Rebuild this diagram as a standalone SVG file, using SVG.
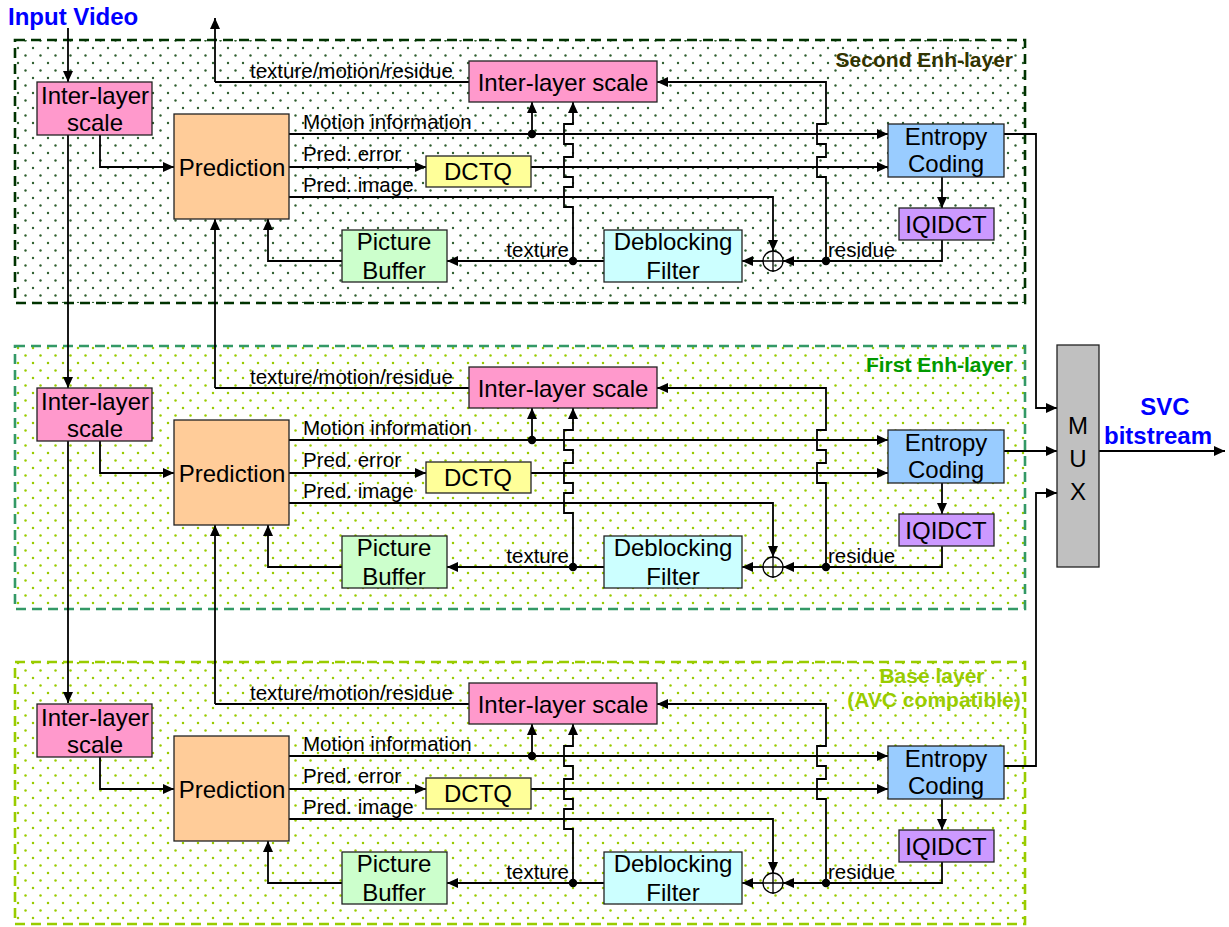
<svg xmlns="http://www.w3.org/2000/svg" width="1229" height="927" viewBox="0 0 1229 927">
<defs>
  <pattern id="dotsDark" width="15" height="15" patternUnits="userSpaceOnUse">
    <circle cx="3" cy="3" r="1.2" fill="#2f5f2f"/>
    <circle cx="10.5" cy="10.5" r="1.2" fill="#2f5f2f"/>
  </pattern>
  <pattern id="dotsLight" width="15" height="15" patternUnits="userSpaceOnUse">
    <circle cx="3" cy="3" r="1.25" fill="#99cc00"/>
    <circle cx="10.5" cy="10.5" r="1.25" fill="#99cc00"/>
  </pattern>
  <marker id="arr" markerUnits="userSpaceOnUse" markerWidth="11" markerHeight="10" refX="11" refY="5" orient="auto">
    <path d="M0,0 L11,5 L0,10 z" fill="#000"/>
  </marker>
</defs>
<style>
  .box { stroke: #222; stroke-width: 1.3; }
  .pink { fill: #FF99CC; }
  .orange { fill: #FFCC99; }
  .yellow { fill: #FFFF99; }
  .blue { fill: #99CCFF; }
  .purple { fill: #CC99FF; }
  .cyan { fill: #CCFFFF; }
  .green { fill: #CCFFCC; }
  .gray { fill: #C0C0C0; }
  .bt { font-family: "Liberation Sans", Arial, sans-serif; font-size: 24px; fill: #000; text-anchor: middle; }
  .lbl { font-family: "Liberation Sans", Arial, sans-serif; font-size: 20.5px; fill: #000; }
  .hdr { font-family: "Liberation Sans", Arial, sans-serif; font-size: 21px; font-weight: bold; }
  .big { font-family: "Liberation Sans", Arial, sans-serif; font-size: 24px; font-weight: bold; fill: #0000FF; }
  .ln { fill: none; stroke: #000; stroke-width: 1.8; }
  .la { fill: none; stroke: #000; stroke-width: 1.8; marker-end: url(#arr); }
  .dot { fill: #000; }
  .frame { stroke-width: 2.6; stroke-dasharray: 10 6; }
</style>
<rect width="1229" height="927" fill="#fff"/>

<!-- Layer frames -->
<g id="frames">
  <rect id="frame-second" class="frame" x="15" y="40" width="1010" height="263" fill="url(#dotsDark)" stroke="#003300"/>
  <rect id="frame-first" class="frame" x="15" y="346" width="1010" height="263" fill="url(#dotsLight)" stroke="#339966"/>
  <rect id="frame-base" class="frame" x="15" y="662" width="1010" height="262" fill="url(#dotsLight)" stroke="#99CC00"/>
  <text class="hdr" x="1013" y="67" text-anchor="end" fill="#333300">Second Enh-layer</text>
  <text class="hdr" x="1013" y="372" text-anchor="end" fill="#009900">First Enh-layer</text>
  <text class="hdr" x="932" y="683" text-anchor="middle" fill="#99CC00">Base layer</text>
  <text class="hdr" x="934" y="707" text-anchor="middle" fill="#99CC00">(AVC compatible)</text>
</g>

<text class="big" x="8" y="25">Input Video</text>
<text class="big" x="1165" y="415" text-anchor="middle">SVC</text>
<text class="big" x="1158" y="444" text-anchor="middle">bitstream</text>

<!-- Connectors -->
<g id="connectors">
  <path class="la" d="M68,28 V82"/>
  <path class="la" d="M215,82 V18"/>
  <path class="la" d="M68,135 V388"/>
  <path class="la" d="M68,441 V703"/>
  <path class="la" d="M1004,134 H1036 V408 H1057"/>
  <path class="la" d="M1004,451 H1057"/>
  <path class="la" d="M1004,766 H1036 V493 H1057"/>
  <path class="la" d="M1099,451 H1225"/>
  <path class="la" d="M215,388 V219"/>
  <path class="la" d="M215,704 V525"/>
  <g id="conn-second">
    <path class="ln" d="M469,82 H215"/>
    <path class="la" d="M100,135 V167 H174"/>
    <path class="la" d="M289,134 H888"/>
    <path class="la" d="M532,134 V102"/>
    <path class="la" d="M289,167 H426"/>
    <path class="la" d="M531,167 H888"/>
    <path class="la" d="M289,197 H773 V251"/>
    <path class="la" d="M942,177 V208"/>
    <path class="la" d="M942,240 V261 H783"/>
    <path class="la" d="M826,261 V177 h-9 V157 h9 V144 h-9 V124 h9 V82 H657"/>
    <path class="la" d="M763,261 H742"/>
    <path class="la" d="M604,261 H447"/>
    <path class="la" d="M573,261 V207 h-9 V187 h9 V177 h-9 V157 h9 V144 h-9 V124 h9 V102"/>
    <path class="la" d="M342,261 H268 V219"/>
    <circle class="dot" cx="532" cy="134" r="4.2"/>
    <circle class="dot" cx="826" cy="261" r="4.2"/>
    <circle class="dot" cx="573" cy="261" r="4.2"/>
  </g>
  <g id="conn-first" transform="translate(0,306)">
    <path class="ln" d="M469,82 H215"/>
    <path class="la" d="M100,135 V167 H174"/>
    <path class="la" d="M289,134 H888"/>
    <path class="la" d="M532,134 V102"/>
    <path class="la" d="M289,167 H426"/>
    <path class="la" d="M531,167 H888"/>
    <path class="la" d="M289,197 H773 V251"/>
    <path class="la" d="M942,177 V208"/>
    <path class="la" d="M942,240 V261 H783"/>
    <path class="la" d="M826,261 V177 h-9 V157 h9 V144 h-9 V124 h9 V82 H657"/>
    <path class="la" d="M763,261 H742"/>
    <path class="la" d="M604,261 H447"/>
    <path class="la" d="M573,261 V207 h-9 V187 h9 V177 h-9 V157 h9 V144 h-9 V124 h9 V102"/>
    <path class="la" d="M342,261 H268 V219"/>
    <circle class="dot" cx="532" cy="134" r="4.2"/>
    <circle class="dot" cx="826" cy="261" r="4.2"/>
    <circle class="dot" cx="573" cy="261" r="4.2"/>
  </g>
  <g id="conn-base" transform="translate(0,622)">
    <path class="ln" d="M469,82 H215"/>
    <path class="la" d="M100,135 V167 H174"/>
    <path class="la" d="M289,134 H888"/>
    <path class="la" d="M532,134 V102"/>
    <path class="la" d="M289,167 H426"/>
    <path class="la" d="M531,167 H888"/>
    <path class="la" d="M289,197 H773 V251"/>
    <path class="la" d="M942,177 V208"/>
    <path class="la" d="M942,240 V261 H783"/>
    <path class="la" d="M826,261 V177 h-9 V157 h9 V144 h-9 V124 h9 V82 H657"/>
    <path class="la" d="M763,261 H742"/>
    <path class="la" d="M604,261 H447"/>
    <path class="la" d="M573,261 V207 h-9 V187 h9 V177 h-9 V157 h9 V144 h-9 V124 h9 V102"/>
    <path class="la" d="M342,261 H268 V219"/>
    <circle class="dot" cx="532" cy="134" r="4.2"/>
    <circle class="dot" cx="826" cy="261" r="4.2"/>
    <circle class="dot" cx="573" cy="261" r="4.2"/>
  </g>
</g>

<!-- Connector labels -->
<g id="labels">
  <g id="labels-second">
    <text class="lbl" x="250" y="78">texture/motion/residue</text>
    <text class="lbl" x="303" y="129">Motion information</text>
    <text class="lbl" x="303" y="161">Pred. error</text>
    <text class="lbl" x="303" y="192">Pred. image</text>
    <text class="lbl" x="569" y="257" text-anchor="end">texture</text>
    <text class="lbl" x="828" y="257">residue</text>
  </g>
  <g id="labels-first" transform="translate(0,306)">
    <text class="lbl" x="250" y="78">texture/motion/residue</text>
    <text class="lbl" x="303" y="129">Motion information</text>
    <text class="lbl" x="303" y="161">Pred. error</text>
    <text class="lbl" x="303" y="192">Pred. image</text>
    <text class="lbl" x="569" y="257" text-anchor="end">texture</text>
    <text class="lbl" x="828" y="257">residue</text>
  </g>
  <g id="labels-base" transform="translate(0,622)">
    <text class="lbl" x="250" y="78">texture/motion/residue</text>
    <text class="lbl" x="303" y="129">Motion information</text>
    <text class="lbl" x="303" y="161">Pred. error</text>
    <text class="lbl" x="303" y="192">Pred. image</text>
    <text class="lbl" x="569" y="257" text-anchor="end">texture</text>
    <text class="lbl" x="828" y="257">residue</text>
  </g>
</g>

<!-- Nodes: Second Enh-layer -->
<g id="second-layer">
  <g id="second-interlayer-left"><rect class="box pink" x="37" y="82" width="115" height="53"/><text class="bt" x="95" y="104">Inter-layer</text><text class="bt" x="95" y="131">scale</text></g>
  <g id="second-prediction"><rect class="box orange" x="174" y="114" width="115" height="105"/><text class="bt" x="232" y="176">Prediction</text></g>
  <g id="second-interlayer-mid"><rect class="box pink" x="469" y="61" width="188" height="41"/><text class="bt" x="563" y="91">Inter-layer scale</text></g>
  <g id="second-dctq"><rect class="box yellow" x="426" y="156" width="105" height="31"/><text class="bt" x="478" y="180">DCTQ</text></g>
  <g id="second-entropy"><rect class="box blue" x="888" y="124" width="116" height="53"/><text class="bt" x="946" y="145">Entropy</text><text class="bt" x="946" y="172">Coding</text></g>
  <g id="second-iqidct"><rect class="box purple" x="899" y="208" width="95" height="32"/><text class="bt" x="946" y="233">IQIDCT</text></g>
  <g id="second-deblocking"><rect class="box cyan" x="604" y="230" width="138" height="52"/><text class="bt" x="673" y="250">Deblocking</text><text class="bt" x="673" y="279">Filter</text></g>
  <g id="second-picbuf"><rect class="box green" x="342" y="230" width="105" height="52"/><text class="bt" x="394" y="250">Picture</text><text class="bt" x="394" y="279">Buffer</text></g>
  <g id="second-adder"><circle cx="773" cy="261" r="10" fill="none" stroke="#000" stroke-width="1.3"/><path d="M773,250 V272 M762,261 H784" stroke="#000" stroke-width="1.3"/></g>
</g>

<!-- Nodes: First Enh-layer -->
<g id="first-layer" transform="translate(0,306)">
  <g id="first-interlayer-left"><rect class="box pink" x="37" y="82" width="115" height="53"/><text class="bt" x="95" y="104">Inter-layer</text><text class="bt" x="95" y="131">scale</text></g>
  <g id="first-prediction"><rect class="box orange" x="174" y="114" width="115" height="105"/><text class="bt" x="232" y="176">Prediction</text></g>
  <g id="first-interlayer-mid"><rect class="box pink" x="469" y="61" width="188" height="41"/><text class="bt" x="563" y="91">Inter-layer scale</text></g>
  <g id="first-dctq"><rect class="box yellow" x="426" y="156" width="105" height="31"/><text class="bt" x="478" y="180">DCTQ</text></g>
  <g id="first-entropy"><rect class="box blue" x="888" y="124" width="116" height="53"/><text class="bt" x="946" y="145">Entropy</text><text class="bt" x="946" y="172">Coding</text></g>
  <g id="first-iqidct"><rect class="box purple" x="899" y="208" width="95" height="32"/><text class="bt" x="946" y="233">IQIDCT</text></g>
  <g id="first-deblocking"><rect class="box cyan" x="604" y="230" width="138" height="52"/><text class="bt" x="673" y="250">Deblocking</text><text class="bt" x="673" y="279">Filter</text></g>
  <g id="first-picbuf"><rect class="box green" x="342" y="230" width="105" height="52"/><text class="bt" x="394" y="250">Picture</text><text class="bt" x="394" y="279">Buffer</text></g>
  <g id="first-adder"><circle cx="773" cy="261" r="10" fill="none" stroke="#000" stroke-width="1.3"/><path d="M773,250 V272 M762,261 H784" stroke="#000" stroke-width="1.3"/></g>
</g>

<!-- Nodes: Base layer -->
<g id="base-layer" transform="translate(0,622)">
  <g id="base-interlayer-left"><rect class="box pink" x="37" y="82" width="115" height="53"/><text class="bt" x="95" y="104">Inter-layer</text><text class="bt" x="95" y="131">scale</text></g>
  <g id="base-prediction"><rect class="box orange" x="174" y="114" width="115" height="105"/><text class="bt" x="232" y="176">Prediction</text></g>
  <g id="base-interlayer-mid"><rect class="box pink" x="469" y="61" width="188" height="41"/><text class="bt" x="563" y="91">Inter-layer scale</text></g>
  <g id="base-dctq"><rect class="box yellow" x="426" y="156" width="105" height="31"/><text class="bt" x="478" y="180">DCTQ</text></g>
  <g id="base-entropy"><rect class="box blue" x="888" y="124" width="116" height="53"/><text class="bt" x="946" y="145">Entropy</text><text class="bt" x="946" y="172">Coding</text></g>
  <g id="base-iqidct"><rect class="box purple" x="899" y="208" width="95" height="32"/><text class="bt" x="946" y="233">IQIDCT</text></g>
  <g id="base-deblocking"><rect class="box cyan" x="604" y="230" width="138" height="52"/><text class="bt" x="673" y="250">Deblocking</text><text class="bt" x="673" y="279">Filter</text></g>
  <g id="base-picbuf"><rect class="box green" x="342" y="230" width="105" height="52"/><text class="bt" x="394" y="250">Picture</text><text class="bt" x="394" y="279">Buffer</text></g>
  <g id="base-adder"><circle cx="773" cy="261" r="10" fill="none" stroke="#000" stroke-width="1.3"/><path d="M773,250 V272 M762,261 H784" stroke="#000" stroke-width="1.3"/></g>
</g>

<g id="mux"><rect class="box gray" x="1057" y="345" width="42" height="222"/>
  <text class="bt" x="1078" y="434">M</text><text class="bt" x="1078" y="467">U</text><text class="bt" x="1078" y="500">X</text></g>
</svg>
